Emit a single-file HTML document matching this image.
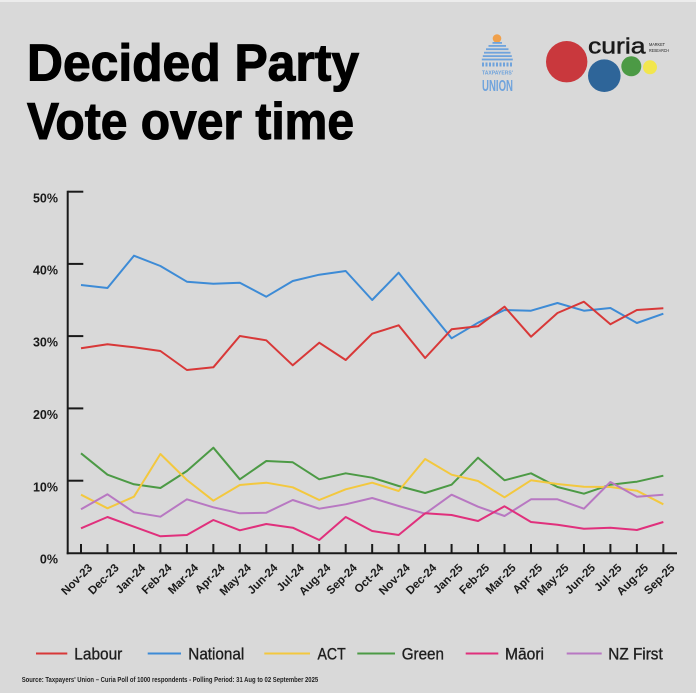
<!DOCTYPE html>
<html><head><meta charset="utf-8"><style>
html,body{margin:0;padding:0;background:#d9d9d9;}
svg{display:block;}
</style></head><body>
<svg width="696" height="693" viewBox="0 0 696 693" xmlns="http://www.w3.org/2000/svg" font-family="'Liberation Sans', Arial, sans-serif">
<rect x="0" y="0" width="696" height="693" fill="#d9d9d9"/>
<rect x="0" y="0" width="696" height="2" fill="#ececec"/>

<!-- Title -->
<text x="27" y="80.5" font-size="52" font-weight="bold" fill="#000" stroke="#000" stroke-width="1.1" textLength="332" lengthAdjust="spacingAndGlyphs">Decided Party</text>
<text x="27" y="139" font-size="52" font-weight="bold" fill="#000" stroke="#000" stroke-width="1.1" textLength="327" lengthAdjust="spacingAndGlyphs">Vote over time</text>

<!-- Taxpayers' Union logo -->
<g fill="#6fa3dc">
<circle cx="497" cy="38.5" r="4.3" fill="#f0a04b"/>
<rect x="492.5" y="42" width="9.5" height="1.8"/>
<rect x="488.5" y="45" width="17.5" height="1.8"/>
<rect x="486" y="48.3" width="22.5" height="1.8"/>
<rect x="484" y="51.8" width="26.5" height="1.8"/>
<rect x="482.8" y="55.2" width="29" height="1.8"/>
<rect x="481.8" y="58.6" width="31" height="1.8"/>
<rect x="482" y="62.5" width="2" height="4"/><rect x="485.5" y="62.5" width="2" height="4"/><rect x="489" y="62.5" width="2" height="4"/><rect x="492.5" y="62.5" width="2" height="4"/><rect x="496" y="62.5" width="2" height="4"/><rect x="499.5" y="62.5" width="2" height="4"/><rect x="503" y="62.5" width="2" height="4"/><rect x="506.5" y="62.5" width="2" height="4"/><rect x="510" y="62.5" width="2" height="4"/>
<text x="482" y="74.5" font-size="5" font-weight="bold" textLength="31" lengthAdjust="spacingAndGlyphs">TAXPAYERS'</text>
<text x="482" y="91" font-size="16" font-weight="bold" textLength="31" lengthAdjust="spacingAndGlyphs">UNION</text>
</g>

<!-- Curia logo -->
<circle cx="566.7" cy="61.7" r="20.7" fill="#c9383d"/>
<circle cx="604.3" cy="75.7" r="16.3" fill="#2e6599"/>
<circle cx="631.3" cy="66.3" r="10" fill="#4c9a45"/>
<circle cx="650" cy="67.3" r="7" fill="#f2e64e"/>
<text x="588" y="53.3" font-size="22.5" fill="#1a1a1a" stroke="#1a1a1a" stroke-width="0.5" textLength="57.5" lengthAdjust="spacingAndGlyphs">curia</text>
<text x="649" y="46" font-size="4.6" fill="#1a1a1a" textLength="16" lengthAdjust="spacingAndGlyphs">MARKET</text>
<text x="649" y="51.8" font-size="4.6" fill="#1a1a1a" textLength="20" lengthAdjust="spacingAndGlyphs">RESEARCH</text>

<!-- Axes -->
<g stroke="#1a1a1a" stroke-width="2" fill="none">
<line x1="67.7" y1="190.7" x2="67.7" y2="554.3"/>
<line x1="66.7" y1="553.3" x2="677" y2="553.3"/>
<line x1="67.7" y1="191.7" x2="83.3" y2="191.7"/>
<line x1="67.7" y1="263.9" x2="83.3" y2="263.9"/>
<line x1="67.7" y1="336.1" x2="83.3" y2="336.1"/>
<line x1="67.7" y1="408.4" x2="83.3" y2="408.4"/>
<line x1="67.7" y1="480.7" x2="83.3" y2="480.7"/>
<g>
<line x1="81" y1="544" x2="81" y2="553"/>
<line x1="107.47" y1="544" x2="107.47" y2="553"/>
<line x1="133.94" y1="544" x2="133.94" y2="553"/>
<line x1="160.41" y1="544" x2="160.41" y2="553"/>
<line x1="186.88" y1="544" x2="186.88" y2="553"/>
<line x1="213.35" y1="544" x2="213.35" y2="553"/>
<line x1="239.82" y1="544" x2="239.82" y2="553"/>
<line x1="266.29" y1="544" x2="266.29" y2="553"/>
<line x1="292.76" y1="544" x2="292.76" y2="553"/>
<line x1="319.23" y1="544" x2="319.23" y2="553"/>
<line x1="345.7" y1="544" x2="345.7" y2="553"/>
<line x1="372.17" y1="544" x2="372.17" y2="553"/>
<line x1="398.64" y1="544" x2="398.64" y2="553"/>
<line x1="425.11" y1="544" x2="425.11" y2="553"/>
<line x1="451.58" y1="544" x2="451.58" y2="553"/>
<line x1="478.05" y1="544" x2="478.05" y2="553"/>
<line x1="504.52" y1="544" x2="504.52" y2="553"/>
<line x1="530.99" y1="544" x2="530.99" y2="553"/>
<line x1="557.46" y1="544" x2="557.46" y2="553"/>
<line x1="583.93" y1="544" x2="583.93" y2="553"/>
<line x1="610.4" y1="544" x2="610.4" y2="553"/>
<line x1="636.87" y1="544" x2="636.87" y2="553"/>
<line x1="663.34" y1="544" x2="663.34" y2="553"/>
</g>
</g>

<!-- Y labels -->
<g font-size="12.5" font-weight="bold" fill="#1a1a1a" text-anchor="end">
<text x="58" y="202.3">50%</text>
<text x="58" y="274.5">40%</text>
<text x="58" y="346.7">30%</text>
<text x="58" y="419">20%</text>
<text x="58" y="491.3">10%</text>
<text x="58" y="563.6">0%</text>
</g>

<!-- X labels -->
<g font-size="11.5" font-weight="bold" fill="#1a1a1a" text-anchor="end">
<text transform="translate(93,568.5) rotate(-45)">Nov-23</text>
<text transform="translate(119.47,568.5) rotate(-45)">Dec-23</text>
<text transform="translate(145.94,568.5) rotate(-45)">Jan-24</text>
<text transform="translate(172.41,568.5) rotate(-45)">Feb-24</text>
<text transform="translate(198.88,568.5) rotate(-45)">Mar-24</text>
<text transform="translate(225.35,568.5) rotate(-45)">Apr-24</text>
<text transform="translate(251.82,568.5) rotate(-45)">May-24</text>
<text transform="translate(278.29,568.5) rotate(-45)">Jun-24</text>
<text transform="translate(304.76,568.5) rotate(-45)">Jul-24</text>
<text transform="translate(331.23,568.5) rotate(-45)">Aug-24</text>
<text transform="translate(357.7,568.5) rotate(-45)">Sep-24</text>
<text transform="translate(384.17,568.5) rotate(-45)">Oct-24</text>
<text transform="translate(410.64,568.5) rotate(-45)">Nov-24</text>
<text transform="translate(437.11,568.5) rotate(-45)">Dec-24</text>
<text transform="translate(463.58,568.5) rotate(-45)">Jan-25</text>
<text transform="translate(490.05,568.5) rotate(-45)">Feb-25</text>
<text transform="translate(516.52,568.5) rotate(-45)">Mar-25</text>
<text transform="translate(542.99,568.5) rotate(-45)">Apr-25</text>
<text transform="translate(569.46,568.5) rotate(-45)">May-25</text>
<text transform="translate(595.93,568.5) rotate(-45)">Jun-25</text>
<text transform="translate(622.4,568.5) rotate(-45)">Jul-25</text>
<text transform="translate(648.87,568.5) rotate(-45)">Aug-25</text>
<text transform="translate(675.34,568.5) rotate(-45)">Sep-25</text>
</g>

<!-- Series -->
<g fill="none" stroke-width="2" stroke-linejoin="round">
<polyline stroke="#4c9a45" points="81,453.3 107.47,474.7 133.94,484.3 160.41,488 186.88,471 213.35,447.7 239.82,479.3 266.29,461 292.76,462.3 319.23,479.3 345.7,473.3 372.17,477.7 398.64,486 425.11,493 451.58,484.7 478.05,457.7 504.52,480.3 530.99,473.3 557.46,487 583.93,493.7 610.4,484.7 636.87,481.7 663.34,475.7"/>
<polyline stroke="#f3c83e" points="81,494.7 107.47,508.3 133.94,496.7 160.41,454 186.88,480 213.35,500.7 239.82,485 266.29,482.7 292.76,487.3 319.23,500 345.7,489.3 372.17,482.7 398.64,491 425.11,459 451.58,474.7 478.05,481 504.52,497.3 530.99,480.3 557.46,484 583.93,486.7 610.4,487 636.87,490.7 663.34,504.3"/>
<polyline stroke="#b878c2" points="81,509.3 107.47,494.3 133.94,512.3 160.41,516.7 186.88,499.3 213.35,507.3 239.82,513.3 266.29,512.7 292.76,500 319.23,508.7 345.7,504.3 372.17,498 398.64,506 425.11,513.7 451.58,494.7 478.05,506.7 504.52,516 530.99,499.3 557.46,499.3 583.93,508.7 610.4,482 636.87,496.7 663.34,494.7"/>
<polyline stroke="#e0307c" points="81,528.3 107.47,517 133.94,526.7 160.41,536.3 186.88,535 213.35,520 239.82,530.3 266.29,524 292.76,527.7 319.23,540 345.7,517 372.17,531 398.64,535 425.11,513.3 451.58,515 478.05,521 504.52,506.3 530.99,522 557.46,524.7 583.93,528.7 610.4,527.7 636.87,530 663.34,522"/>
<polyline stroke="#3d8bd6" points="81,285 107.47,288 133.94,255.7 160.41,266 186.88,281.7 213.35,283.7 239.82,282.7 266.29,296.7 292.76,281 319.23,274.7 345.7,271 372.17,300 398.64,272.7 425.11,305.7 451.58,338.3 478.05,322.7 504.52,310 530.99,310.7 557.46,303 583.93,310.7 610.4,308 636.87,323 663.34,313.7"/>
<polyline stroke="#d83838" points="81,348.3 107.47,344.3 133.94,347.3 160.41,351 186.88,370 213.35,367.3 239.82,336 266.29,340.3 292.76,365.3 319.23,342.7 345.7,360 372.17,333.7 398.64,325.3 425.11,358 451.58,329.3 478.05,326.3 504.52,306.7 530.99,336.7 557.46,313 583.93,301.7 610.4,324.3 636.87,310 663.34,308.3"/>
</g>

<!-- Legend -->
<g stroke-width="2">
<line x1="36" y1="653.5" x2="67.3" y2="653.5" stroke="#d83838"/>
<line x1="147.7" y1="653.5" x2="181" y2="653.5" stroke="#3d8bd6"/>
<line x1="264.3" y1="653.5" x2="310" y2="653.5" stroke="#f3c83e"/>
<line x1="357.3" y1="653.5" x2="395" y2="653.5" stroke="#4c9a45"/>
<line x1="465.7" y1="653.5" x2="498.3" y2="653.5" stroke="#e0307c"/>
<line x1="566.7" y1="653.5" x2="601.7" y2="653.5" stroke="#b878c2"/>
</g>
<g font-size="16.5" fill="#1f1f1f" stroke="#1f1f1f" stroke-width="0.35">
<text x="74.3" y="659.5" textLength="48" lengthAdjust="spacingAndGlyphs">Labour</text>
<text x="188.3" y="659.5" textLength="56" lengthAdjust="spacingAndGlyphs">National</text>
<text x="317.5" y="659.5" textLength="28.2" lengthAdjust="spacingAndGlyphs">ACT</text>
<text x="401.7" y="659.5" textLength="42.3" lengthAdjust="spacingAndGlyphs">Green</text>
<text x="505" y="659.5" textLength="39" lengthAdjust="spacingAndGlyphs">Māori</text>
<text x="608.3" y="659.5" textLength="54.4" lengthAdjust="spacingAndGlyphs">NZ First</text>
</g>

<!-- Source -->
<text x="21.7" y="682" font-size="7" font-weight="bold" fill="#222" textLength="296.5" lengthAdjust="spacingAndGlyphs">Source: Taxpayers' Union – Curia Poll of 1000 respondents -  Polling Period: 31 Aug to 02 September 2025</text>
</svg>
</body></html>
